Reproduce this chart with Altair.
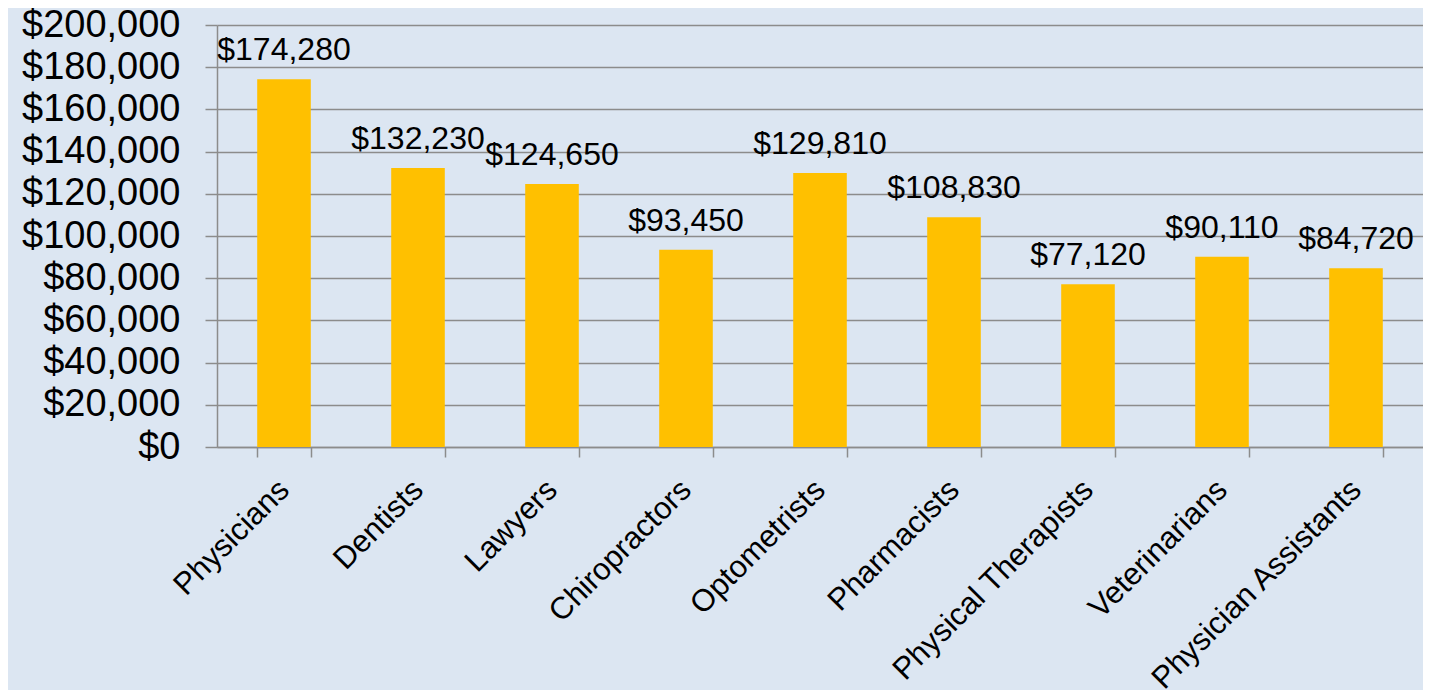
import altair as alt
import pandas as pd

professions = ["Physicians", "Dentists", "Lawyers", "Chiropractors", "Optometrists",
               "Pharmacists", "Physical Therapists", "Veterinarians", "Physician Assistants"]
salaries = [174280, 132230, 124650, 93450, 129810, 108830, 77120, 90110, 84720]
y_ticks = [0, 20000, 40000, 60000, 80000, 100000, 120000, 140000, 160000, 180000, 200000]

df = pd.DataFrame({"profession": professions, "salary": salaries})
df["label"] = df["salary"].map(lambda v: "${:,}".format(v))

FONT = "Liberation Sans"
GRID = "#8c8c8c"

x = alt.X("profession:N", sort=professions, title=None,
          scale=alt.Scale(paddingInner=0.6, paddingOuter=0.3),
          axis=alt.Axis(labelAngle=-45, labelFontSize=31, labelFont=FONT, labelColor="black",
                        labelAlign="right", labelBaseline="middle", labelPadding=28,
                        tickBand="extent", tickSize=10, tickColor=GRID, tickWidth=1.5,
                        domainColor=GRID, domainWidth=1.5, grid=False, labelLimit=400))
y = alt.Y("salary:Q", title=None,
          scale=alt.Scale(domain=[0, 200000], nice=False),
          axis=alt.Axis(values=y_ticks, format="$,.0f", labelFontSize=38, labelFont=FONT,
                        labelColor="black", labelPadding=25, tickSize=12, tickColor=GRID,
                        tickWidth=1.5, domainColor=GRID, domainWidth=1.5,
                        gridColor=GRID, gridWidth=1.5, labelLimit=400))

bars = alt.Chart(df).mark_bar(color="#FFC000").encode(x=x, y=y)
labels = alt.Chart(df).mark_text(baseline="bottom", dy=-12, fontSize=32, font=FONT,
                                 color="black").encode(x=x, y=y, text="label:N")

chart = (bars + labels).properties(
    width=1206, height=422,
    autosize=alt.AutoSizeParams(type="none"),
    padding={"left": 209, "top": 17, "right": 0, "bottom": 243},
    background="#DCE6F2",
).configure_view(stroke=None)

chart.save("out.html", embed_options={"renderer": "svg", "actions": False})
